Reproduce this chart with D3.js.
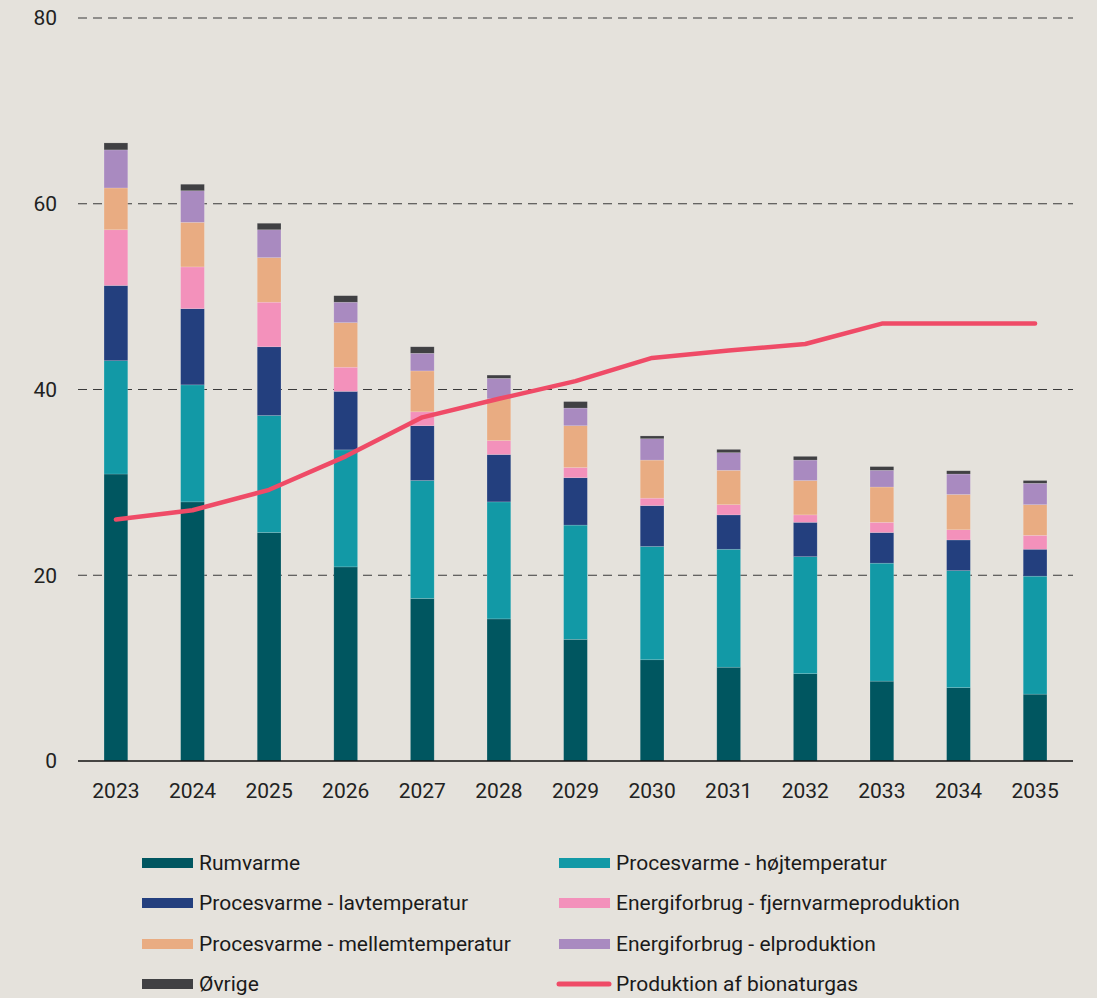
<!DOCTYPE html>
<html>
<head>
<meta charset="utf-8">
<script src="https://cdn.jsdelivr.net/npm/d3@7"></script>
<style>
  html, body { margin: 0; padding: 0; background: #e5e2dc; }
  svg { display: block; font-family: Roboto, "Noto Sans", sans-serif; }
</style>
</head>
<body>
<div id="chart"></div>
<script>
// 1: DATA
const years = ["2023", "2024", "2025", "2026", "2027", "2028", "2029", "2030", "2031", "2032", "2033", "2034", "2035"];
const rumvarme   = [30.9, 27.9, 24.6, 20.9, 17.5, 15.3, 13.1, 10.9, 10.1, 9.4, 8.6, 7.9, 7.2];
const hoejtemp   = [12.2, 12.6, 12.6, 12.6, 12.7, 12.6, 12.3, 12.2, 12.7, 12.6, 12.7, 12.6, 12.7];
const lavtemp    = [8.1, 8.2, 7.4, 6.3, 5.9, 5.1, 5.1, 4.4, 3.7, 3.7, 3.3, 3.3, 2.9];
const fjernvarme = [6.0, 4.5, 4.8, 2.6, 1.5, 1.5, 1.1, 0.8, 1.1, 0.8, 1.1, 1.1, 1.5];
const mellemtemp = [4.5, 4.8, 4.8, 4.8, 4.4, 4.5, 4.5, 4.1, 3.7, 3.7, 3.8, 3.8, 3.3];
const elprod     = [4.1, 3.4, 3.0, 2.2, 1.9, 2.2, 1.9, 2.3, 1.9, 2.2, 1.8, 2.2, 2.3];
const oevrige    = [0.75, 0.7, 0.7, 0.7, 0.7, 0.35, 0.7, 0.3, 0.35, 0.4, 0.4, 0.35, 0.3];
const bionaturgas = [26, 27, 29.2, 32.8, 37, 39, 40.9, 43.4, 44.2, 44.9, 47.1, 47.1, 47.1];
const yTicks = [0, 20, 40, 60, 80];

const series = [
  { key: "rum",    name: "Rumvarme",                          values: rumvarme,   color: "#005660" },
  { key: "hoej",   name: "Procesvarme - højtemperatur",       values: hoejtemp,   color: "#1299a6" },
  { key: "lav",    name: "Procesvarme - lavtemperatur",       values: lavtemp,    color: "#233f7e" },
  { key: "fjern",  name: "Energiforbrug - fjernvarmeproduktion", values: fjernvarme, color: "#f391bb" },
  { key: "mellem", name: "Procesvarme - mellemtemperatur",    values: mellemtemp, color: "#e9ac82" },
  { key: "el",     name: "Energiforbrug - elproduktion",      values: elprod,     color: "#a98ac0" },
  { key: "oevr",   name: "Øvrige",                            values: oevrige,    color: "#404043" }
];
const lineName = "Produktion af bionaturgas";
const lineColor = "#ef4b67";

// 2: SETUP
const W = 1097, H = 998;
const plot = { left: 78, right: 1073, top: 18, bottom: 761 };

const svg = d3.select("#chart").append("svg")
  .attr("width", W).attr("height", H);

svg.append("rect").attr("width", W).attr("height", H).attr("fill", "#e5e2dc");

// 3: SCALES
const x = d3.scaleBand()
  .domain(years)
  .range([plot.left, plot.right])
  .paddingInner(0.69)
  .paddingOuter(0.34);

const y = d3.scaleLinear()
  .domain([0, 80])
  .range([plot.bottom, plot.top]);

// 4: GRID + Y LABELS
svg.append("g")
  .selectAll("line")
  .data(yTicks.filter(d => d > 0))
  .join("line")
  .attr("x1", plot.left).attr("x2", plot.right)
  .attr("y1", d => y(d)).attr("y2", d => y(d))
  .attr("stroke", "#3a3a3a")
  .attr("stroke-width", 1)
  .attr("stroke-dasharray", "9,6");

svg.append("g")
  .selectAll("text")
  .data(yTicks)
  .join("text")
  .attr("x", 57)
  .attr("y", d => y(d))
  .attr("dy", "0.35em")
  .attr("text-anchor", "end")
  .attr("font-size", 21)
  .attr("fill", "#222")
  .text(d => d);

// 5: STACKED BARS
const table = years.map((yr, i) => {
  const row = { year: yr };
  series.forEach(s => { row[s.key] = s.values[i]; });
  return row;
});
const stacked = d3.stack().keys(series.map(s => s.key))(table);
const colorOf = d3.scaleOrdinal().domain(series.map(s => s.key)).range(series.map(s => s.color));

svg.append("g")
  .selectAll("g")
  .data(stacked)
  .join("g")
  .attr("fill", d => colorOf(d.key))
  .selectAll("rect")
  .data(d => d)
  .join("rect")
  .attr("x", d => x(d.data.year))
  .attr("width", x.bandwidth())
  .attr("y", d => y(d[1]))
  .attr("height", d => y(d[0]) - y(d[1]))
  .attr("stroke", "rgba(255,255,255,0.25)")
  .attr("stroke-width", 0.6);

// baseline
svg.append("line")
  .attr("x1", plot.left).attr("x2", plot.right)
  .attr("y1", y(0)).attr("y2", y(0))
  .attr("stroke", "#111").attr("stroke-width", 1.5);

// 6: LINE
const line = d3.line()
  .x((d, i) => x(years[i]) + x.bandwidth() / 2)
  .y(d => y(d));

svg.append("path")
  .datum(bionaturgas)
  .attr("d", line)
  .attr("fill", "none")
  .attr("stroke", lineColor)
  .attr("stroke-width", 4.5)
  .attr("stroke-linecap", "round")
  .attr("stroke-linejoin", "round");

// 7: X LABELS
svg.append("g")
  .selectAll("text")
  .data(years)
  .join("text")
  .attr("x", d => x(d) + x.bandwidth() / 2)
  .attr("y", 791)
  .attr("dy", "0.35em")
  .attr("text-anchor", "middle")
  .attr("font-size", 21)
  .attr("fill", "#222")
  .text(d => d);

// 8: LEGEND
const legendItems = series.map(s => ({ name: s.name, color: s.color, type: "bar" }))
  .concat([{ name: lineName, color: lineColor, type: "line" }]);
const colX = [142, 559];
const rowY = [863, 903, 944, 984];

const leg = svg.append("g")
  .selectAll("g")
  .data(legendItems)
  .join("g")
  .attr("transform", (d, i) => `translate(${colX[i % 2]},${rowY[Math.floor(i / 2)]})`);

leg.filter(d => d.type === "bar").append("rect")
  .attr("x", 0).attr("y", -5)
  .attr("width", 51).attr("height", 10)
  .attr("fill", d => d.color);

leg.filter(d => d.type === "line").append("line")
  .attr("x1", 0).attr("x2", 50)
  .attr("y1", 0).attr("y2", 0)
  .attr("stroke", d => d.color)
  .attr("stroke-width", 5)
  .attr("stroke-linecap", "round");

leg.append("text")
  .attr("x", 57)
  .attr("y", 0)
  .attr("dy", "0.35em")
  .attr("font-size", 21)
  .attr("fill", "#1a1a1a")
  .text(d => d.name);
</script>
</body>
</html>
